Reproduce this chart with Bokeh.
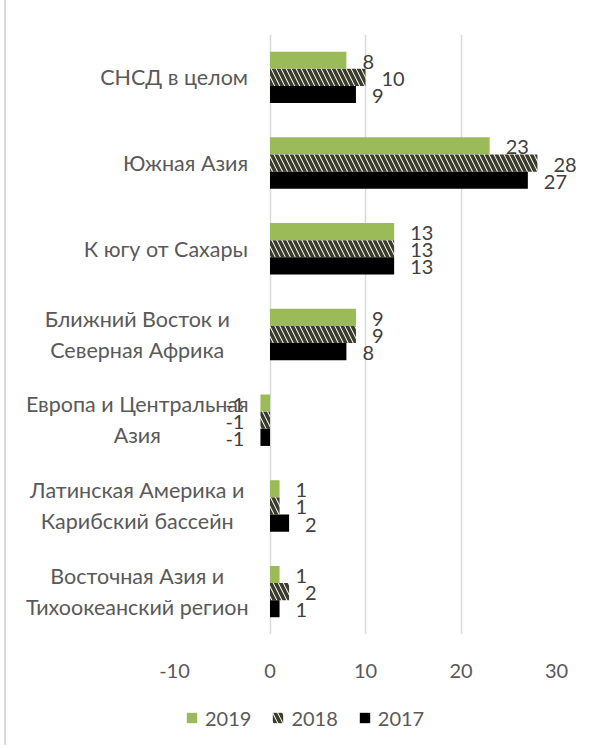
from bokeh.plotting import figure
from bokeh.layouts import column
from bokeh.models import FactorRange, Range1d, ColumnDataSource, Legend, LegendItem, FixedTicker
from bokeh.transform import dodge
from bokeh.core.properties import value
from bokeh.embed import file_html
from bokeh.resources import INLINE

# ---- data ----
categories = [
    "СНСД в целом",
    "Южная Азия",
    "К югу от Сахары",
    "Ближний Восток и Северная Африка",
    "Европа и Центральная Азия",
    "Латинская Америка и Карибский бассейн",
    "Восточная Азия и Тихоокеанский регион",
]
category_lines = [
    ["СНСД в целом"],
    ["Южная Азия"],
    ["К югу от Сахары"],
    ["Ближний Восток и", "Северная Африка"],
    ["Европа и Центральная", "Азия"],
    ["Латинская Америка и", "Карибский бассейн"],
    ["Восточная Азия и", "Тихоокеанский регион"],
]
years = ["2019", "2018", "2017"]
v2019 = [8, 23, 13, 9, -1, 1, 1]
v2018 = [10, 28, 13, 9, -1, 1, 2]
v2017 = [9, 27, 13, 8, -1, 2, 1]
x_ticks = [-10, 0, 10, 20, 30]
x_tick_labels = ["-10", "0", "10", "20", "30"]

# ---- styles ----
FONT = "Lato"
FS_NUM = "20px"
FS_CAT = "21.5px"
GREEN = "#9bbb59"
HATCH = "#3c3c2c"
AXIS_TXT = "#595959"
LBL_TXT = "#404040"
GRID = "#d9d9d9"

bar_styles = [
    dict(fill_color=GREEN, line_color=None),
    dict(fill_color="white", line_color=None, hatch_pattern="\\", hatch_color=HATCH,
         hatch_weight=3.5, hatch_scale=10),
    dict(fill_color="black", line_color=None),
]
series = [v2019, v2018, v2017]

p = figure(
    width=585, height=690,
    y_range=FactorRange(factors=categories[::-1]),
    x_range=Range1d(x_ticks[0], x_ticks[-1]),
    output_backend="svg", toolbar_location=None,
    min_border_left=168, min_border_right=35, min_border_top=34, min_border_bottom=56,
)

src = ColumnDataSource(dict(cat=categories, v2019=v2019, v2018=v2018, v2017=v2017))

BH = 0.2
offsets = [BH, 0.0, -BH]
for yr, off, st in zip(years, offsets, bar_styles):
    p.hbar(y=dodge("cat", off, range=p.y_range), left=0, right="v" + yr, height=BH,
           source=src, **st)

# data labels
for vals, off in zip(series, offsets):
    ls = ColumnDataSource(dict(
        cat=categories,
        x=vals,
        t=[str(v) for v in vals],
        xo=[16 if v >= 0 else -16 for v in vals],
        al=["left" if v >= 0 else "right" for v in vals],
    ))
    p.text(x="x", y=dodge("cat", off, range=p.y_range), text="t", source=ls,
           x_offset="xo", y_offset=1.5, text_align="al", text_baseline="middle",
           text_font=value(FONT), text_font_size=FS_NUM, text_color=LBL_TXT, level="overlay")

# category labels (drawn next to the 0 axis, overlapping the plot area like Excel)
cl = dict(cat=[], t=[], x=[], yo=[], al=[])
for cat, lines in zip(categories, category_lines):
    if len(lines) == 1:
        cl["cat"].append(cat); cl["t"].append(lines[0]); cl["x"].append(-2.3)
        cl["yo"].append(0); cl["al"].append("right")
    else:
        for i, ln in enumerate(lines):
            cl["cat"].append(cat); cl["t"].append(ln); cl["x"].append(-13.9)
            cl["yo"].append(-16 if i == 0 else 15); cl["al"].append("center")
p.text(x="x", y="cat", text="t", source=ColumnDataSource(cl), y_offset="yo",
       text_align="al", text_baseline="middle", text_font=value(FONT),
       text_font_size=FS_CAT, text_color=AXIS_TXT, level="overlay")

# axes & grid
p.yaxis.visible = False
p.xaxis.ticker = FixedTicker(ticks=x_ticks)
p.xaxis.major_label_overrides = dict(zip(x_ticks, x_tick_labels))
p.xaxis.axis_line_color = None
p.xaxis.major_tick_line_color = None
p.xaxis.minor_tick_line_color = None
p.xaxis.major_tick_out = 6
p.xaxis.major_label_standoff = 23
p.xaxis.major_label_text_font = FONT
p.xaxis.major_label_text_font_size = FS_NUM
p.xaxis.major_label_text_color = AXIS_TXT
p.xgrid.ticker = FixedTicker(ticks=x_ticks)
p.xgrid.grid_line_color = GRID
p.xgrid.grid_line_width = 1.5
p.ygrid.grid_line_color = None
p.outline_line_color = None

# ---- legend strip (separate small figure; hidden copies of the bar renderers) ----
lf = figure(width=585, height=55, x_range=Range1d(0, 1),
            y_range=FactorRange(factors=categories[::-1]),
            x_axis_location=None, y_axis_location=None,
            output_backend="svg", toolbar_location=None,
            min_border_left=0, min_border_right=0, min_border_top=0, min_border_bottom=0)
lf.grid.visible = False
lf.outline_line_color = None
items = []
for yr, st in zip(years, bar_styles):
    r = lf.hbar(y="cat", left=0, right="v" + yr, height=BH, source=src, visible=False, **st)
    items.append(LegendItem(label=yr, renderers=[r]))
legend = Legend(
    items=items, orientation="horizontal", location="left",
    border_line_color=None, background_fill_alpha=0,
    inactive_fill_alpha=0,
    glyph_width=13, glyph_height=13, label_height=13,
    label_text_font=FONT, label_text_font_size=FS_NUM, label_text_color=AXIS_TXT,
    label_standoff=7, spacing=20, padding=0, margin=11,
)
lf.add_layout(legend)

layout = column(p, lf, spacing=0, styles={"border-left": "2px solid #d9d9d9", "margin-left": "4px"})

open("out.html", "w").write(file_html(layout, INLINE))
